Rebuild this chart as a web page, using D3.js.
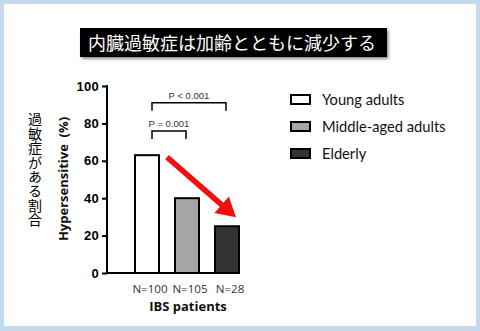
<!DOCTYPE html>
<html><head><meta charset="utf-8">
<script src="https://cdn.jsdelivr.net/npm/d3@7"></script>
<style>body{margin:0;background:#fff}svg{display:block}</style>
</head><body>
<script>
const categories = ["Young adults", "Middle-aged adults", "Elderly"];
const nLabels = ["N=100", "N=105", "N=28"];
const values = [63, 40, 25];
const fills = ["#ffffff", "#a6a6a6", "#333333"];
const yTicks = [0, 20, 40, 60, 80, 100];
const brackets = [
  {from: 0, to: 1, y: 76, label: "P = 0.001"},
  {from: 0, to: 2, y: 91, label: "P < 0.001"}
];
const title = "内臓過敏症は加齢とともに減少する";
const jpYLabel = "過敏症がある割合";

const W = 480, H = 331;
const svg = d3.select("body").append("svg").attr("width", W).attr("height", H);
svg.append("rect").attr("width", W).attr("height", H).attr("fill", "#c2d9f0");
svg.append("rect").attr("x", 4).attr("y", 4).attr("width", 472).attr("height", 322).attr("fill", "#fff");

// title
const defs = svg.append("defs");
const f = defs.append("filter").attr("id", "sh").attr("x", "-10%").attr("y", "-30%").attr("width", "120%").attr("height", "160%");
f.append("feDropShadow").attr("dx", 1.5).attr("dy", 2).attr("stdDeviation", 1.5).attr("flood-color", "#000").attr("flood-opacity", 0.45);
svg.append("rect").attr("x", 80).attr("y", 28).attr("width", 307).attr("height", 29).attr("fill", "#050505").attr("filter", "url(#sh)");
svg.append("text").attr("x", 232).attr("y", 49.5).attr("text-anchor", "middle")
  .attr("font-family", "Noto Sans CJK JP").attr("font-size", 18).attr("fill", "#fff").text(title);

// scales
const y = d3.scaleLinear().domain([0, 100]).range([273, 86]);
const x = d3.scaleBand().domain(d3.range(categories.length)).range([127, 247]).paddingInner(0.4).paddingOuter(0.2);
const bw = x.bandwidth();

const g = svg.append("g");
// y axis
const yAxis = d3.axisLeft(y).tickValues(yTicks).tickSize(5).tickPadding(3);
const ya = g.append("g").attr("transform", "translate(107,0)").call(yAxis);
ya.select(".domain").attr("stroke-width", 2).attr("d", "M0,85V274");
ya.selectAll(".tick line").attr("stroke-width", 2).attr("x1", -5).attr("x2", 0);
ya.selectAll(".tick text").attr("font-family", "Liberation Sans, Arial").attr("font-weight", "bold")
  .attr("font-size", 13).attr("letter-spacing", 0.3).attr("fill", "#000");
// x axis line
g.append("line").attr("x1", 106).attr("x2", 240).attr("y1", y(0)).attr("y2", y(0)).attr("stroke", "#000").attr("stroke-width", 2);

// bars
g.selectAll("rect.bar").data(values).join("rect").attr("class", "bar")
  .attr("x", (d, i) => x(i)).attr("width", bw)
  .attr("y", d => y(d)).attr("height", d => y(0) - y(d))
  .attr("fill", (d, i) => fills[i]).attr("stroke", "#000").attr("stroke-width", 2);

// N labels
g.selectAll("text.n").data(nLabels).join("text").attr("class", "n")
  .attr("x", (d, i) => x(i) + bw / 2 + 3).attr("y", 293).attr("text-anchor", "middle")
  .attr("font-family", "Open Sans").attr("font-size", 11.6).attr("fill", "#333").text(d => d);

g.append("text").attr("x", 188).attr("y", 311).attr("text-anchor", "middle")
  .attr("font-family", "Open Sans").attr("font-weight", "bold").attr("font-size", 13).attr("fill", "#111").text("IBS patients");

// y labels
g.append("text").attr("transform", "translate(68,179) rotate(-90)").attr("text-anchor", "middle")
  .attr("font-family", "Open Sans").attr("font-weight", "bold").attr("font-size", 13).attr("fill", "#111")
  .attr("xml:space", "preserve").text("Hypersensitive  (%)");
g.append("text").attr("x", 35).attr("y", 112).attr("text-anchor", "start")
  .style("writing-mode", "vertical-rl")
  .attr("font-family", "Noto Sans CJK JP").attr("font-size", 14).attr("letter-spacing", 0.4)
  .attr("fill", "#000").text(jpYLabel);

// brackets
brackets.forEach(b => {
  const xa = x(b.from) + bw / 2 + 5, xc = x(b.to) + bw / 2 - 1;
  const yy = y(b.y);
  g.append("path").attr("d", `M${xa},${yy + 8}V${yy}H${xc}V${yy + 8}`)
    .attr("fill", "none").attr("stroke", "#000").attr("stroke-width", 1.5);
  g.append("text").attr("x", (xa + xc) / 2).attr("y", yy - 4).attr("text-anchor", "middle")
    .attr("font-family", "Liberation Sans, Arial").attr("font-size", 9.5).attr("fill", "#333").text(b.label);
});

// red arrow
const ax1 = x(0) + bw + 8, ay1 = y(values[0]) + 2;
const ax2 = x(2) + bw - 3, ay2 = y(values[2]) - 9;
const ang = Math.atan2(ay2 - ay1, ax2 - ax1);
const headL = 19, headW = 11;
const bx = ax2 - headL * Math.cos(ang), by = ay2 - headL * Math.sin(ang);
g.append("line").attr("x1", ax1).attr("y1", ay1).attr("x2", bx + 2 * Math.cos(ang)).attr("y2", by + 2 * Math.sin(ang))
  .attr("stroke", "#f01010").attr("stroke-width", 5.5);
const px = -Math.sin(ang), py = Math.cos(ang);
g.append("path").attr("d", `M${ax2},${ay2}L${bx + px * headW},${by + py * headW}L${bx - px * headW},${by - py * headW}Z`)
  .attr("fill", "#f01010");

// legend
const lg = svg.append("g").attr("transform", "translate(291,95)");
categories.forEach((c, i) => {
  const row = lg.append("g").attr("transform", `translate(0,${i * 27})`);
  row.append("rect").attr("x", 0).attr("y", 0).attr("width", 19).attr("height", 9)
    .attr("fill", fills[i]).attr("stroke", "#000").attr("stroke-width", 2);
  row.append("text").attr("x", 31).attr("y", 10).attr("font-family", "Lato").attr("font-size", 14.7).attr("fill", "#111").text(c);
});
</script>
</body></html>
